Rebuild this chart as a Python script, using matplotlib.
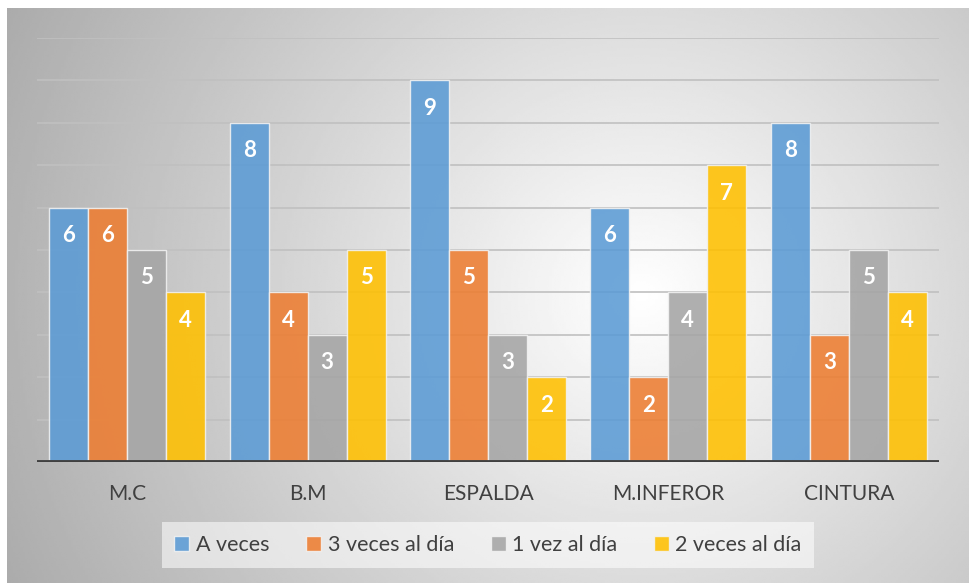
import numpy as np
import matplotlib
matplotlib.use("Agg")
import matplotlib.pyplot as plt

plt.rcParams["font.family"] = ["Lato", "DejaVu Sans"]

# Data
categorias = ["M.C", "B.M", "ESPALDA", "M.INFEROR", "CINTURA"]
series = ["A veces", "3 veces al día", "1 vez al día", "2 veces al día"]
a_veces = [6, 8, 9, 6, 8]
tres_veces = [6, 4, 5, 2, 3]
una_vez = [5, 3, 3, 4, 5]
dos_veces = [4, 5, 2, 7, 4]
valores = [a_veces, tres_veces, una_vez, dos_veces]
colores = ["#5B9BD5", "#ED7D31", "#A5A5A5", "#FFC000"]

W, H = 969, 585
fig = plt.figure(figsize=(W / 100, H / 100), dpi=100)
fig.patch.set_facecolor("white")

# Gradient background of the chart area
bg = fig.add_axes([7 / W, (H - 583) / H, (968 - 7) / W, (583 - 8) / H])
gx, gy = np.meshgrid(np.linspace(0, 1, 400), np.linspace(0, 1, 250))
d = np.sqrt(((gx - 0.66) * 1.0) ** 2 + ((gy - 0.5) * 0.62) ** 2)
shade = np.clip(1.0 - 0.45 * d, 0, 1)
bg.imshow(shade, cmap="gray", vmin=0, vmax=1, aspect="auto",
          extent=[0, 1, 0, 1], origin="upper", interpolation="bilinear")
bg.set_axis_off()

# Main plot
ax = fig.add_axes([37 / W, (H - 462) / H, (939 - 37) / W, (462 - 38) / H])
ax.patch.set_alpha(0)
x = np.arange(len(categorias))
bw = 0.216
offsets = (np.arange(4) - 1.5) * bw

for k in range(10):
    ax.axhline(k + 1, color="#c0c0c0", lw=1.2, zorder=1)

for i, (vals, col) in enumerate(zip(valores, colores)):
    ax.bar(x + offsets[i], vals, width=bw, color=col, alpha=0.88,
           edgecolor="#f2f2f2", linewidth=1, label=series[i], zorder=2)
    for xi, v in zip(x + offsets[i], vals):
        ax.text(xi, v - 0.66, str(v), ha="center", va="center",
                color="white", fontsize=16, fontweight="bold", zorder=3)

ax.axhline(0, color="#404040", lw=3.5, zorder=4)
ax.set_xlim(-0.5, len(categorias) - 0.5)
ax.set_ylim(0, 10)
ax.set_yticks([])
ax.set_xticks(x)
ax.set_xticklabels(categorias, fontsize=15, color="#404040")
ax.tick_params(axis="x", length=0, pad=16)
for s in ax.spines.values():
    s.set_visible(False)

leg = fig.legend(loc="center", bbox_to_anchor=(488 / W, (H - 545) / H), ncol=4,
                 fontsize=15.5, frameon=True, handlelength=0.7, handleheight=0.7,
                 handletextpad=0.3, columnspacing=1.7, borderpad=0.6)
leg.get_frame().set_facecolor("white")
leg.get_frame().set_alpha(0.55)
leg.get_frame().set_edgecolor("none")
leg.get_frame().set_boxstyle("square", pad=0)
for t in leg.get_texts():
    t.set_color("#404040")

fig.savefig("out.png", dpi=100)
